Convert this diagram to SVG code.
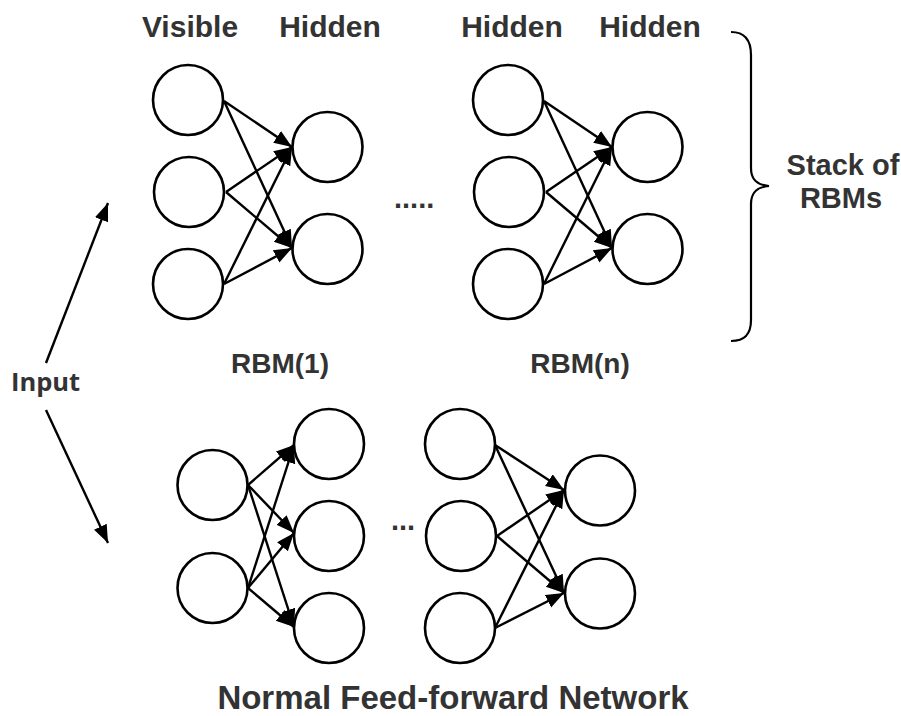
<svg xmlns="http://www.w3.org/2000/svg" width="901" height="716" viewBox="0 0 901 716">
  <defs>
    <marker id="head" markerUnits="userSpaceOnUse" markerWidth="20" markerHeight="16" refX="18" refY="7" orient="auto">
      <path d="M0,0 L18,7 L0,14 z" fill="#000"/>
    </marker>
    <style>
      .n { fill: #fff; stroke: #000; stroke-width: 2.6; }
      .c { stroke: #000; stroke-width: 2.4; fill: none; marker-end: url(#head); }
      .t { font-family: "Liberation Sans", Arial, sans-serif; font-weight: bold; fill: #333; font-size: 29px; }
      .hd { font-size: 30px; }
      .rb { font-size: 28px; }
      .ttl { font-size: 33px; }
      .in { font-family: "Open Sans", "Liberation Sans", sans-serif; font-weight: bold; fill: #333; font-size: 25.5px; }
    </style>
  </defs>
  <rect width="901" height="716" fill="#fff"/>

  <!-- layer captions -->
  <g id="labels">
    <text class="t hd" x="190" y="37" text-anchor="middle">Visible</text>
    <text class="t hd" x="330" y="37" text-anchor="middle">Hidden</text>
    <text class="t hd" x="512" y="37" text-anchor="middle">Hidden</text>
    <text class="t hd" x="650" y="37" text-anchor="middle">Hidden</text>
    <text class="t rb" x="280" y="373" text-anchor="middle">RBM(1)</text>
    <text class="t rb" x="580" y="373" text-anchor="middle">RBM(n)</text>
    <text class="t" x="843" y="175" text-anchor="middle">Stack of</text>
    <text class="t" x="841" y="208" text-anchor="middle">RBMs</text>
    <text class="t ttl" x="453" y="709" text-anchor="middle">Normal Feed-forward Network</text>
    <text class="in" x="11" y="391">Input</text>
    <text class="t" x="394" y="208">.....</text>
    <text class="t" x="391" y="530">...</text>
  </g>

  <!-- connectors -->
  <g id="connectors">
    <!-- RBM(1) -->
    <line class="c" x1="224" y1="101" x2="292" y2="147"/>
    <line class="c" x1="224" y1="101" x2="292" y2="248"/>
    <line class="c" x1="226" y1="192" x2="292" y2="147"/>
    <line class="c" x1="226" y1="192" x2="292" y2="248"/>
    <line class="c" x1="224" y1="284" x2="292" y2="147"/>
    <line class="c" x1="224" y1="284" x2="292" y2="248"/>
    <!-- RBM(n) -->
    <line class="c" x1="544" y1="101" x2="612" y2="147"/>
    <line class="c" x1="544" y1="101" x2="612" y2="248"/>
    <line class="c" x1="546" y1="192" x2="612" y2="147"/>
    <line class="c" x1="546" y1="192" x2="612" y2="248"/>
    <line class="c" x1="544" y1="284" x2="612" y2="147"/>
    <line class="c" x1="544" y1="284" x2="612" y2="248"/>
    <!-- feed-forward, first block -->
    <line class="c" x1="248" y1="485" x2="294" y2="445"/>
    <line class="c" x1="248" y1="485" x2="294" y2="533"/>
    <line class="c" x1="248" y1="485" x2="294" y2="627"/>
    <line class="c" x1="248" y1="588" x2="294" y2="445"/>
    <line class="c" x1="248" y1="588" x2="294" y2="533"/>
    <line class="c" x1="248" y1="588" x2="294" y2="627"/>
    <!-- feed-forward, last block -->
    <line class="c" x1="495" y1="445" x2="564" y2="490"/>
    <line class="c" x1="495" y1="445" x2="564" y2="593"/>
    <line class="c" x1="497" y1="536" x2="564" y2="490"/>
    <line class="c" x1="497" y1="536" x2="564" y2="593"/>
    <line class="c" x1="495" y1="628" x2="564" y2="490"/>
    <line class="c" x1="495" y1="628" x2="564" y2="593"/>
    <!-- input arrows -->
    <line class="c" x1="46" y1="363" x2="108" y2="203"/>
    <line class="c" x1="46" y1="410" x2="108" y2="543"/>
    <!-- brace -->
    <path d="M731,32 C745,32 751,40 751,55 L751,168 C751,180 757,185 769,186 C757,187 751,192 751,204 L751,320 C751,334 745,341 731,341" fill="none" stroke="#000" stroke-width="2.2"/>
  </g>

  <!-- RBM(1) units -->
  <g id="rbm1-v1"><circle class="n" cx="188" cy="100" r="35"/></g>
  <g id="rbm1-v2"><circle class="n" cx="189" cy="192" r="35"/></g>
  <g id="rbm1-v3"><circle class="n" cx="188" cy="284" r="35"/></g>
  <g id="rbm1-h1"><circle class="n" cx="327.5" cy="147" r="35"/></g>
  <g id="rbm1-h2"><circle class="n" cx="327.5" cy="249" r="35"/></g>

  <!-- RBM(n) units -->
  <g id="rbmn-v1"><circle class="n" cx="508" cy="100" r="35"/></g>
  <g id="rbmn-v2"><circle class="n" cx="509" cy="192" r="35"/></g>
  <g id="rbmn-v3"><circle class="n" cx="508" cy="284" r="35"/></g>
  <g id="rbmn-h1"><circle class="n" cx="647.5" cy="147" r="35"/></g>
  <g id="rbmn-h2"><circle class="n" cx="647.5" cy="249" r="35"/></g>

  <!-- feed-forward units -->
  <g id="ff-a1"><circle class="n" cx="212.5" cy="485" r="35"/></g>
  <g id="ff-a2"><circle class="n" cx="212.5" cy="588" r="35"/></g>
  <g id="ff-b1"><circle class="n" cx="329" cy="444" r="35"/></g>
  <g id="ff-b2"><circle class="n" cx="329" cy="536" r="35"/></g>
  <g id="ff-b3"><circle class="n" cx="329" cy="628" r="35"/></g>
  <g id="ff-c1"><circle class="n" cx="460" cy="444" r="35"/></g>
  <g id="ff-c2"><circle class="n" cx="461" cy="536" r="35"/></g>
  <g id="ff-c3"><circle class="n" cx="460" cy="628" r="35"/></g>
  <g id="ff-d1"><circle class="n" cx="600" cy="490.5" r="35"/></g>
  <g id="ff-d2"><circle class="n" cx="600" cy="593.5" r="35"/></g>
</svg>
